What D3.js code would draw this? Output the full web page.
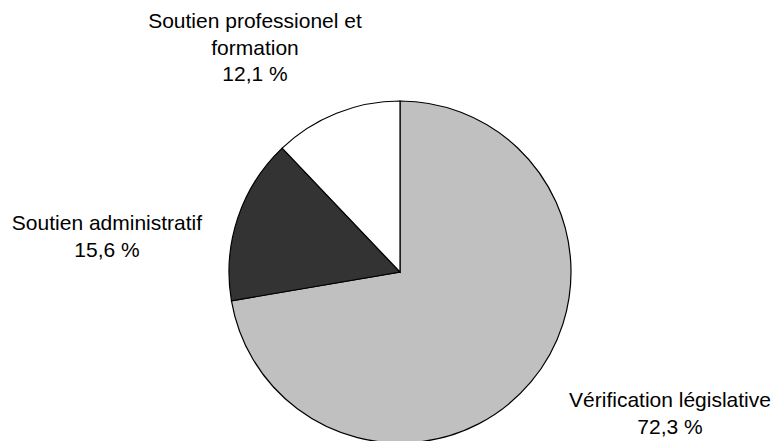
<!DOCTYPE html>
<html>
<head>
<meta charset="utf-8">
<script src="https://cdn.jsdelivr.net/npm/d3@7"></script>
<style>
  body { margin: 0; background: #fff; }
  text { font-family: "Liberation Sans", Arial, sans-serif; fill: #000; }
</style>
</head>
<body>
<div id="chart"></div>
<script>
// Chart data
var categories = ["Vérification législative", "Soutien administratif", "Soutien professionel et formation"];
var values = [72.3, 15.6, 12.1];
var valueLabels = ["72,3 %", "15,6 %", "12,1 %"];
var colors = ["#c0c0c0", "#333333", "#ffffff"];

var svgWidth = 774;
var svgHeight = 441;
var cx = 400, cy = 272, radius = 171;

var svg = d3.select("#chart")
  .append("svg")
  .attr("width", svgWidth)
  .attr("height", svgHeight);

var pieGroup = svg.append("g")
  .attr("transform", `translate(${cx}, ${cy})`);

var pie = d3.pie().sort(null).value(d => d);
var arc = d3.arc().innerRadius(0).outerRadius(radius);

pieGroup.selectAll("path")
  .data(pie(values))
  .enter()
  .append("path")
  .attr("d", arc)
  .attr("fill", (d, i) => colors[i])
  .attr("stroke", "#000")
  .attr("stroke-width", 1.2);

// Labels (placed by hand like the original, outside the pie)
var labelLines = [
  ["Vérification législative", valueLabels[0]],
  ["Soutien administratif", valueLabels[1]],
  ["Soutien professionel et", "formation", valueLabels[2]]
];
var labelPos = [[670, 407], [107, 230], [255, 28]];

labelLines.forEach(function(lines, i) {
  var t = svg.append("text")
    .attr("text-anchor", "middle")
    .style("font-size", "21px");
  lines.forEach(function(line, j) {
    t.append("tspan")
      .attr("x", labelPos[i][0])
      .attr("y", labelPos[i][1] + j * 26.5)
      .text(line);
  });
});
</script>
</body>
</html>
